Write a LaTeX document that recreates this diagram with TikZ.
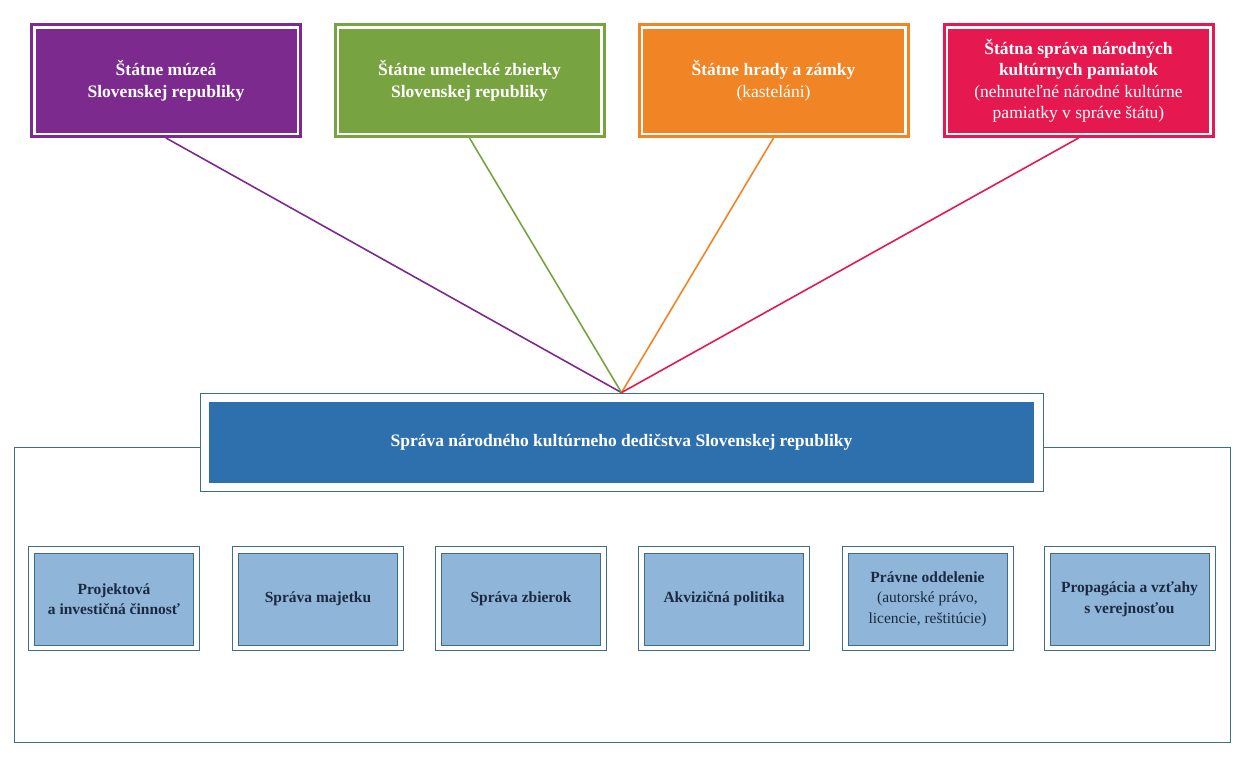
\documentclass[tikz,border=0pt]{standalone}
\usepackage{fontspec}
\setmainfont{Liberation Serif}
\usepackage{tikz}

\definecolor{muzpurple}{HTML}{7D2A8E}
\definecolor{umgreen}{HTML}{77A441}
\definecolor{hradorange}{HTML}{F18424}
\definecolor{pamred}{HTML}{E5194F}
\definecolor{sndblue}{HTML}{2E70AE}
\definecolor{oddblue}{HTML}{8FB5D9}
\definecolor{framteal}{HTML}{3F6E84}
\definecolor{oddtext}{HTML}{1B2A41}

\begin{document}
\begin{tikzpicture}[x=1pt, y=-1pt,
		topframe/.style={draw=#1, line width=3pt, fill=white, minimum width=269pt, minimum height=112pt, inner sep=0pt},
		topbox/.style={fill=#1, minimum width=261pt, minimum height=104pt, inner sep=0pt, text=white, align=center, font=\fontsize{17.5}{21.5}\selectfont},
		subframe/.style={draw=framteal, line width=0.8pt, fill=white, minimum width=171pt, minimum height=104pt, inner sep=0pt},
		subbox/.style={draw=framteal, line width=0.6pt, fill=oddblue, minimum width=159pt, minimum height=92pt, inner sep=0pt, text=oddtext, align=center, font=\fontsize{15.5}{20.5}\selectfont}]
	\useasboundingbox (0, 0) rectangle (1245, 765);

	% outer frame
	\node[draw=framteal, line width=0.8pt, minimum width=1216pt, minimum height=295pt, inner sep=0pt] (frame) at (622, 594.5) {};

	% top organisations
	\node[topframe=muzpurple] (frm1) at (166, 80.5) {};
	\node[topbox=muzpurple] (muz) at (166, 81) {\textbf{Štátne múzeá}\\\textbf{Slovenskej republiky}};

	\node[topframe=umgreen] (frm2) at (469.5, 80.5) {};
	\node[topbox=umgreen] (umz) at (469.5, 81) {\textbf{Štátne umelecké zbierky}\\\textbf{Slovenskej republiky}};

	\node[topframe=hradorange] (frm3) at (773.5, 80.5) {};
	\node[topbox=hradorange] (hrad) at (773.5, 81) {\textbf{Štátne hrady a zámky}\\(kasteláni)};

	\node[topframe=pamred] (frm4) at (1078.5, 80.5) {};
	\node[topbox=pamred] (pam) at (1078.5, 81) {\textbf{Štátna správa národných}\\\textbf{kultúrnych pamiatok}\\(nehnuteľné národné kultúrne\\pamiatky v správe štátu)};

	% central office
	\node[draw=framteal, line width=0.8pt, fill=white, minimum width=843pt, minimum height=98pt, inner sep=0pt] (frm0) at (621.5, 442) {};
	\node[fill=sndblue, minimum width=825pt, minimum height=81pt, inner sep=0pt, text=white, font=\fontsize{17.5}{21}\selectfont] (snd) at (621.5, 442.5) {\textbf{Správa národného kultúrneho dedičstva Slovenskej republiky}};

	\draw[muzpurple, line width=1.6pt] (frm1.south) to (frm0.north);
	\draw[umgreen, line width=1.6pt] (frm2.south) to (frm0.north);
	\draw[hradorange, line width=1.6pt] (frm3.south) to (frm0.north);
	\draw[pamred, line width=1.6pt] (frm4.south) to (frm0.north);

	% departments
	\node[subframe] (sfr1) at (114, 598.5) {};
	\node[subbox] (proj) at (114, 599) {\textbf{Projektová}\\\textbf{a investičná činnosť}};

	\node[subframe] (sfr2) at (318, 598.5) {};
	\node[subbox] (maj) at (318, 599) {\textbf{Správa majetku}};

	\node[subframe] (sfr3) at (521, 598.5) {};
	\node[subbox] (zbi) at (521, 599) {\textbf{Správa zbierok}};

	\node[subframe] (sfr4) at (724, 598.5) {};
	\node[subbox] (akv) at (724, 599) {\textbf{Akvizičná politika}};

	\node[subframe] (sfr5) at (927.5, 598.5) {};
	\node[subbox] (prav) at (927.5, 599) {\textbf{Právne oddelenie}\\(autorské právo,\\licencie, reštitúcie)};

	\node[subframe] (sfr6) at (1129.5, 598.5) {};
	\node[subbox] (prop) at (1129.5, 599) {\textbf{Propagácia a vzťahy}\\\textbf{s verejnosťou}};
\end{tikzpicture}
\end{document}
